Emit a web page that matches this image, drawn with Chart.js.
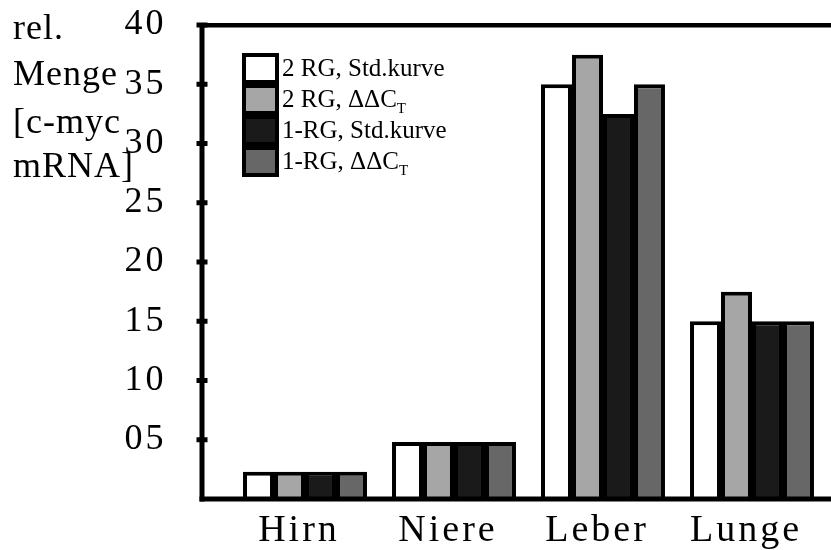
<!DOCTYPE html>
<html><head><meta charset="utf-8">
<script src="https://cdn.jsdelivr.net/npm/chart.js@4/dist/chart.umd.min.js"></script>
<style>html,body{margin:0;padding:0;background:#fff;overflow:hidden}#wrap{width:831px;height:550px;position:relative}</style>
</head><body><div id="wrap"><canvas id="c"></canvas></div>
<script>
// ---- data ----
const categories = ['Hirn', 'Niere', 'Leber', 'Lunge'];
const seriesNames = ['2 RG, Std.kurve', '2 RG, ΔΔC', '1-RG, Std.kurve', '1-RG, ΔΔC'];
const seriesSubscripts = ['', 'T', '', 'T'];
const rg2Std   = [2.3, 4.8, 35.0, 15.0];
const rg2DDCt  = [2.3, 4.8, 37.5, 17.5];
const rg1Std   = [2.3, 4.8, 32.5, 15.0];
const rg1DDCt  = [2.3, 4.8, 35.0, 15.0];
const yTickValues = [5, 10, 15, 20, 25, 30, 35, 40];
const yTickLabels = ['05', '10', '15', '20', '25', '30', '35', '40'];
const yTitleLines = ['rel.', 'Menge', '[c-myc', 'mRNA]'];

// ---- styles ----
const seriesColors = ['#ffffff', '#a6a6a6', '#1a1a1a', '#676767'];
const serif = '"Liberation Serif", "DejaVu Serif", serif';

const seriesValues = [rg2Std, rg2DDCt, rg1Std, rg1DDCt];

const framePlugin = {
  id: 'frame',
  beforeDraw(chart) {
    try { chart.ctx.letterSpacing = '3px'; } catch (e) {}
  },
  afterDatasetsDraw(chart) {
    const ctx = chart.ctx;
    const ys = chart.scales.y;
    const axisX = 202;
    ctx.save();
    ctx.fillStyle = '#000';
    const top = ys.getPixelForValue(40);
    const bottom = ys.getPixelForValue(0);
    // y axis line
    ctx.fillRect(axisX - 2.5, top - 2, 5, bottom - top + 4.5);
    // top frame line
    ctx.fillRect(axisX, top - 2, chart.width - axisX, 4.5);
    // baseline
    ctx.fillRect(axisX - 2.5, bottom - 2.5, chart.width - axisX + 2.5, 5);
    // crossing tick marks
    yTickValues.forEach(v => {
      const py = ys.getPixelForValue(v);
      ctx.fillRect(axisX - 5.5, py - 2.5, 11, 5);
    });

    // y title
    ctx.font = '36px ' + serif;
    try { ctx.letterSpacing = '1px'; } catch (e) {}
    ctx.textAlign = 'left';
    ctx.textBaseline = 'alphabetic';
    const titleBase = [39, 85, 133, 177];
    yTitleLines.forEach((t, i) => ctx.fillText(t, 13, titleBase[i]));

    // legend
    try { ctx.letterSpacing = '0px'; } catch (e) {}
    const bx = 242, bw = 37, bh = 31, by0 = 53;
    chart.data.datasets.forEach((ds, i) => {
      const by = by0 + i * bh;
      ctx.fillStyle = ds.backgroundColor;
      ctx.fillRect(bx, by, bw, bh);
      ctx.strokeStyle = '#000';
      ctx.lineWidth = 4;
      ctx.strokeRect(bx + 2, by + 2, bw - 4, bh - 4);
      ctx.fillStyle = '#000';
      ctx.font = '25px ' + serif;
      ctx.textBaseline = 'middle';
      const tx = 282, ty = by + bh / 2 + 1;
      ctx.fillText(ds.label, tx, ty);
      if (seriesSubscripts[i]) {
        const w = ctx.measureText(ds.label).width;
        ctx.font = '15px ' + serif;
        ctx.fillText(seriesSubscripts[i], tx + w, ty + 9);
      }
    });
    ctx.restore();
  }
};

new Chart(document.getElementById('c'), {
  type: 'bar',
  data: {
    labels: categories,
    datasets: seriesValues.map((vals, i) => ({
      label: seriesNames[i],
      data: vals,
      backgroundColor: seriesColors[i],
      borderColor: '#000',
      borderWidth: 4,
      borderSkipped: 'start',
      barPercentage: 1.0,
      categoryPercentage: 0.832
    }))
  },
  options: {
    responsive: true,
    maintainAspectRatio: false,
    animation: false,
    devicePixelRatio: 1,
    layout: { padding: { top: 25, right: 4.5, left: 0, bottom: 0 } },
    plugins: { legend: { display: false }, tooltip: { enabled: false }, title: { display: false } },
    scales: {
      x: {
        type: 'category',
        offset: true,
        grid: { display: false, drawTicks: false },
        border: { display: false },
        ticks: { color: '#000', font: { family: serif, size: 38 }, padding: 9, maxRotation: 0, labelOffset: -6 },
        afterFit(scale) { scale.height = 51; scale.paddingLeft = 0; scale.paddingRight = 0; }
      },
      y: {
        min: 0, max: 40,
        grid: { display: false, drawTicks: false },
        border: { display: false },
        ticks: {
          stepSize: 5,
          color: '#000',
          font: { family: serif, size: 36 },
          padding: 64,
          callback(v) { const k = yTickValues.indexOf(v); return k >= 0 ? yTickLabels[k] : ''; }
        },
        afterFit(scale) { scale.width = 230.5; scale.paddingTop = 0; scale.paddingBottom = 0; }
      }
    }
  },
  plugins: [framePlugin]
});
</script>
</body></html>
